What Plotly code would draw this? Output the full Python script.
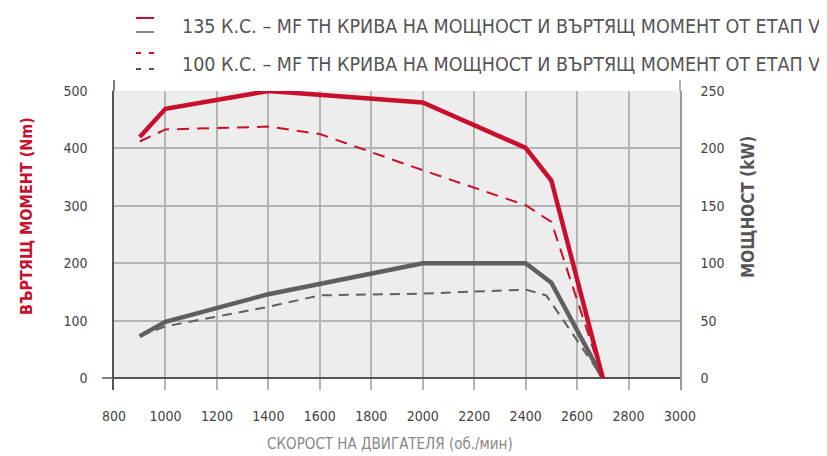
import plotly.graph_objects as go

rpm_135_torque = [900, 1000, 1400, 2000, 2400, 2500, 2700]
torque_135 = [420, 469, 500, 480, 401, 344, 0]

rpm_135_power = [900, 1000, 1400, 2000, 2400, 2500, 2700]
power_135 = [36.5, 49, 73, 100, 100, 83, 0]

rpm_100_torque = [900, 1000, 1400, 1600, 2000, 2400, 2500, 2700]
torque_100 = [412, 433, 438, 425, 362, 301, 272, 0]

rpm_100_power = [900, 1000, 1400, 1600, 2000, 2400, 2480, 2700]
power_100 = [36.5, 45, 62, 72, 73.5, 77, 72, 0]

x_ticks = [800, 1000, 1200, 1400, 1600, 1800, 2000, 2200, 2400, 2600, 2800, 3000]
torque_ticks = [0, 100, 200, 300, 400, 500]
power_ticks = [0, 50, 100, 150, 200, 250]

legend_135 = "135 К.С. – MF TH КРИВА НА МОЩНОСТ И ВЪРТЯЩ МОМЕНТ ОТ ЕТАП V"
legend_100 = "100 К.С. – MF TH КРИВА НА МОЩНОСТ И ВЪРТЯЩ МОМЕНТ ОТ ЕТАП V"
y_title = "ВЪРТЯЩ МОМЕНТ (Nm)"
y2_title = "МОЩНОСТ (kW)"
x_title = "СКОРОСТ НА ДВИГАТЕЛЯ (об./мин)"

RED = "#c8102e"
GRAY = "#5f5f5f"
FONT = "DejaVu Sans Condensed, Liberation Sans Narrow, sans-serif"

fig = go.Figure()

# power traces on main axis (right), torque on overlay (left) so red draws on top
fig.add_trace(go.Scatter(x=rpm_100_power, y=power_100, mode="lines", yaxis="y",
                         line=dict(color=GRAY, width=2, dash="10px,7px"), showlegend=False))
fig.add_trace(go.Scatter(x=rpm_135_power, y=power_135, mode="lines", yaxis="y",
                         line=dict(color=GRAY, width=4.5), showlegend=False))
fig.add_trace(go.Scatter(x=rpm_100_torque, y=torque_100, mode="lines", yaxis="y2",
                         line=dict(color=RED, width=2, dash="12px,8px"), showlegend=False))
fig.add_trace(go.Scatter(x=rpm_135_torque, y=torque_135, mode="lines", yaxis="y2",
                         line=dict(color=RED, width=4.5), showlegend=False))

plot_h = 299.0
plot_w = 566.0

# the page body has an 8px default margin, so the figure is 8px smaller and offset
fig.update_layout(
    width=819, height=448,
    margin=dict(l=106, r=147, t=83, b=66),
    paper_bgcolor="white", plot_bgcolor="white",
    font=dict(family=FONT, size=14, color="#444"),
    xaxis=dict(range=[800, 3000], tickvals=x_ticks, showgrid=True, gridcolor="#b4b4b4",
               gridwidth=1.5, zeroline=False, showline=False, ticks="", ticklabelstandoff=16,
               tickfont=dict(size=14, color="#444")),
    yaxis=dict(range=[-10.45, 250], side="right", tickvals=power_ticks, showgrid=False,
               zeroline=False, showline=True, linecolor="#999", linewidth=1.5,
               ticks="", ticklabelstandoff=16, tickfont=dict(size=14, color="#444"),
               anchor="x"),
    yaxis2=dict(range=[-20.9, 500], side="left", overlaying="y", tickvals=torque_ticks,
                showgrid=True, gridcolor="#b4b4b4", gridwidth=1.5,
                zeroline=True, zerolinecolor="#555", zerolinewidth=1.5,
                showline=True, linecolor="#555", linewidth=1.5,
                ticks="", ticklabelstandoff=22, tickfont=dict(size=14, color="#444"),
                anchor="x"),
)

shapes = [
    # grey plotting background between 0 and 500
    dict(type="rect", xref="x", yref="y2", x0=800, x1=3000, y0=0, y1=500,
         fillcolor="#ededed", line=dict(width=0), layer="below"),
    # zero line extension left of the axis
    dict(type="line", xref="paper", yref="y2", x0=-12 / plot_w, x1=0, y0=0, y1=0,
         line=dict(color="#555", width=1.5)),
    # axis line extensions above the top
    dict(type="line", xref="paper", yref="paper", x0=0, x1=0, y0=1, y1=1 + 11 / plot_h,
         line=dict(color="#555", width=1.5)),
    dict(type="line", xref="paper", yref="paper", x0=1, x1=1, y0=1, y1=1 + 11 / plot_h,
         line=dict(color="#999", width=1.5)),
]

def px_x(p):
    return (p - 114) / plot_w

def px_y(p):
    return (390 - p) / plot_h

# legend markers
shapes += [
    dict(type="line", xref="paper", yref="paper", x0=px_x(136), x1=px_x(154), y0=px_y(18), y1=px_y(18),
         line=dict(color=RED, width=2)),
    dict(type="line", xref="paper", yref="paper", x0=px_x(136), x1=px_x(154), y0=px_y(32), y1=px_y(32),
         line=dict(color="#888", width=2)),
]
for a, b in [(136, 141), (149, 154)]:
    shapes.append(dict(type="line", xref="paper", yref="paper", x0=px_x(a), x1=px_x(b),
                       y0=px_y(53), y1=px_y(53), line=dict(color=RED, width=2)))
    shapes.append(dict(type="line", xref="paper", yref="paper", x0=px_x(a), x1=px_x(b),
                       y0=px_y(69), y1=px_y(69), line=dict(color="#555", width=2)))
fig.update_layout(shapes=shapes)

annotations = [
    dict(text=legend_135, xref="paper", yref="paper", x=px_x(180), y=px_y(27),
         xanchor="left", yanchor="middle", showarrow=False,
         font=dict(size=19.5, color="#555", family=FONT)),
    dict(text=legend_100, xref="paper", yref="paper", x=px_x(180), y=px_y(64),
         xanchor="left", yanchor="middle", showarrow=False,
         font=dict(size=19.5, color="#555", family=FONT)),
    dict(text="<b>" + y_title + "</b>", xref="paper", yref="paper", x=px_x(26), y=px_y(216),
         xanchor="center", yanchor="middle", textangle=-90, showarrow=False,
         font=dict(size=16, color=RED, family=FONT)),
    dict(text="<b>" + y2_title + "</b>", xref="paper", yref="paper", x=px_x(748), y=px_y(207),
         xanchor="center", yanchor="middle", textangle=-90, showarrow=False,
         font=dict(size=17, color="#555", family=FONT)),
    dict(text=x_title, xref="paper", yref="paper", x=px_x(390), y=px_y(444),
         xanchor="center", yanchor="middle", showarrow=False,
         font=dict(size=15, color="#888", family=FONT)),
]
fig.update_layout(annotations=annotations)

fig.write_html("out.html")
